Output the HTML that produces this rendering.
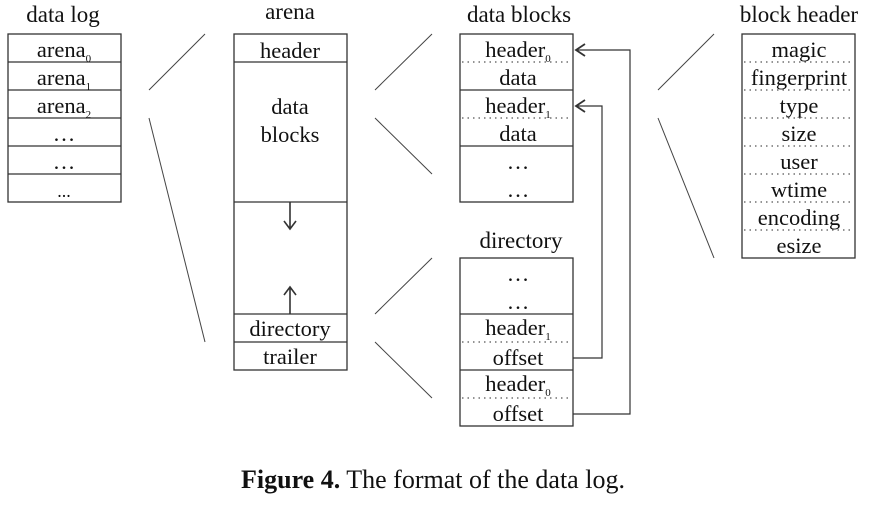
<!DOCTYPE html>
<html><head><meta charset="utf-8"><style>
html,body{margin:0;padding:0;background:#fff;width:882px;height:505px;overflow:hidden}
svg text{font-family:"Liberation Serif",serif;fill:#111}
</style></head><body>
<svg width="882" height="505" viewBox="0 0 882 505">
<g font-size="23" text-anchor="middle">
<text x="63" y="22">data log</text>
<text x="290" y="19">arena</text>
<text x="519" y="22">data blocks</text>
<text x="799" y="22">block header</text>
<text x="521" y="248">directory</text>
</g>
<g stroke="#333" stroke-width="1.3" fill="none">
<rect x="8" y="34" width="113" height="168"/>
<path d="M8 62H121M8 90H121M8 118H121M8 146H121M8 174H121"/>
<rect x="234" y="34" width="113" height="336"/>
<path d="M234 62H347M234 202H347M234 314H347M234 342H347"/>
<path d="M290 202V228M284 221L290 229L296 221M290 314V288M284 295L290 287L296 295" stroke-width="1.6"/>
<rect x="460" y="34" width="113" height="168"/>
<path d="M460 90H573M460 146H573"/>
<rect x="460" y="258" width="113" height="168"/>
<path d="M460 314H573M460 370H573"/>
<rect x="742" y="34" width="113" height="224"/>
</g>
<g stroke="#555" stroke-width="1.2" stroke-dasharray="1.5 4" fill="none">
<path d="M462 62H572M462 118H572M462 342H572M462 398H572"/>
<path d="M744 62H854M744 90H854M744 118H854M744 146H854M744 174H854M744 202H854M744 230H854"/>
</g>
<g stroke="#444" stroke-width="1" fill="none">
<path d="M149 90L205 34M149 118L205 342"/>
<path d="M375 90L432 34M375 118L432 174M375 314L432 258M375 342L432 398"/>
<path d="M658 90L714 34M658 118L714 258"/>
</g>
<g stroke="#333" stroke-width="1.2" fill="none">
<path d="M573 358H602V106H576"/>
<path d="M573 414H630V50H576"/>
<path d="M585 100L576 106L585 112M585 44L576 50L585 56" stroke-width="1.8"/>
</g>
<g font-size="22.5" text-anchor="middle">
<text x="64" y="57">arena<tspan font-size="11" dy="5">0</tspan></text>
<text x="64" y="85">arena<tspan font-size="11" dy="5">1</tspan></text>
<text x="64" y="113">arena<tspan font-size="11" dy="5">2</tspan></text>
<text x="64" y="141">…</text><text x="64" y="169">…</text><text x="64" y="197" font-size="18">...</text>
<text x="290" y="58">header</text>
<text x="290" y="114">data</text><text x="290" y="142">blocks</text>
<text x="290" y="336">directory</text>
<text x="290" y="364">trailer</text>
<text x="518" y="57">header<tspan font-size="11" dy="5">0</tspan></text>
<text x="518" y="85">data</text>
<text x="518" y="113">header<tspan font-size="11" dy="5">1</tspan></text>
<text x="518" y="141">data</text>
<text x="518" y="169">…</text><text x="518" y="197">…</text>
<text x="518" y="281">…</text><text x="518" y="309">…</text>
<text x="518" y="335">header<tspan font-size="11" dy="5">1</tspan></text>
<text x="518" y="365">offset</text>
<text x="518" y="391">header<tspan font-size="11" dy="5">0</tspan></text>
<text x="518" y="421">offset</text>
<text x="799" y="57">magic</text>
<text x="799" y="85">fingerprint</text>
<text x="799" y="113">type</text>
<text x="799" y="141">size</text>
<text x="799" y="169">user</text>
<text x="799" y="197">wtime</text>
<text x="799" y="225">encoding</text>
<text x="799" y="253">esize</text>
</g>
<text x="433" y="488" font-size="26" text-anchor="middle"><tspan font-weight="bold">Figure 4.</tspan> The format of the data log.</text>
</svg>
</body></html>
